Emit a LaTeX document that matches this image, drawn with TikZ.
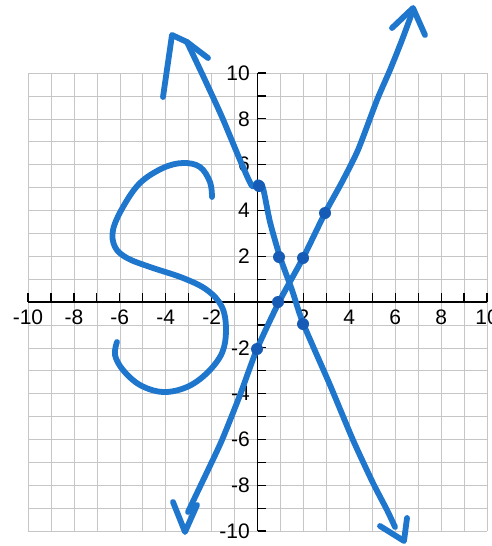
\documentclass[tikz,border=0pt]{standalone}
\usepackage{fontspec}
\setmainfont{Liberation Sans}
\definecolor{pen}{RGB}{30,118,205}
\definecolor{pendot}{RGB}{22,92,182}
\begin{document}
\begin{tikzpicture}[x=1pt,y=-1pt,
  gridline/.style={gray!45, line width=0.6pt},
  axisline/.style={black, line width=1.4pt},
  tickline/.style={black, line width=1.2pt},
  lbl/.style={font=\fontsize{21}{21}\selectfont, inner sep=0pt},
  penstroke/.style={pen, line width=5.8pt, line cap=round, line join=round},
  pendotstyle/.style={fill=pendot, draw=none}]
\useasboundingbox (0,0) rectangle (491,546);
\fill[white] (0,0) rectangle (491,546);
% grid
\foreach \i in {0,...,20} {
  \draw[gridline] ({28+\i*22.95},73) -- ({28+\i*22.95},531);
  \draw[gridline] (28,{73+\i*22.9}) -- (487,{73+\i*22.9});
}
% axes
\draw[axisline] (28,302) -- (487,302);
\draw[axisline] (257.5,73) -- (257.5,531);
\foreach \i in {-10,...,10} {
  \draw[tickline] ({257.5+\i*22.95},302) -- ({257.5+\i*22.95},293);
  \draw[tickline] (257.5,{302-\i*22.9}) -- (266,{302-\i*22.9});
}
% labels
\foreach \i in {-10,-8,-6,-4,-2,2,4,6,8,10} {
  \node[lbl, anchor=north] (xl\i) at ({257.5+\i*22.95},310) {\i};
  \node[lbl, anchor=east] (yl\i) at (250,{302-\i*22.9}) {\i};
}
% S curve
\draw[penstroke] plot[smooth, tension=0.6] coordinates {
 (212,197) (210,182) (200,167) (183,163) (163,168) (140,183) (123,207)
 (113,230) (115,247) (127,258) (150,267) (183,278) (207,290) (222,307)
 (226,330) (222,353) (207,373) (187,387) (163,392) (140,385) (123,370)
 (115,355) (117,342)};
% decreasing line
\draw[penstroke] plot[smooth, tension=0.4] coordinates {
 (187,42) (205,80) (222,117) (240,160) (252,186) (258,182) (263,188)
 (270,222) (280,257) (292,290) (303,323) (330,385) (353,440) (373,483)
 (387,510) (395,527)};
\draw[penstroke] (163,97) -- (172,35) -- (187,42) -- (208,58);
\draw[penstroke] (380,526) -- (404,541) -- (407,518);
% increasing line
\draw[penstroke] plot[smooth, tension=0.4] coordinates {
 (188,512) (197,493) (208,470) (222,440) (240,395) (257,349) (279,302)
 (303,258) (325,213) (342,182) (358,150) (377,100) (390,70) (402,40) (412,13)};
\draw[penstroke] (173,502) -- (185,532) -- (197,505);
\draw[penstroke] (392,28) -- (413,8) -- (425,35);
% points
\foreach \p in {(259,186),(279,257),(303,324),(257,349),(278,302),(303,258),(325,213)}
  \fill[pendotstyle] \p circle (6);
\end{tikzpicture}
\end{document}
